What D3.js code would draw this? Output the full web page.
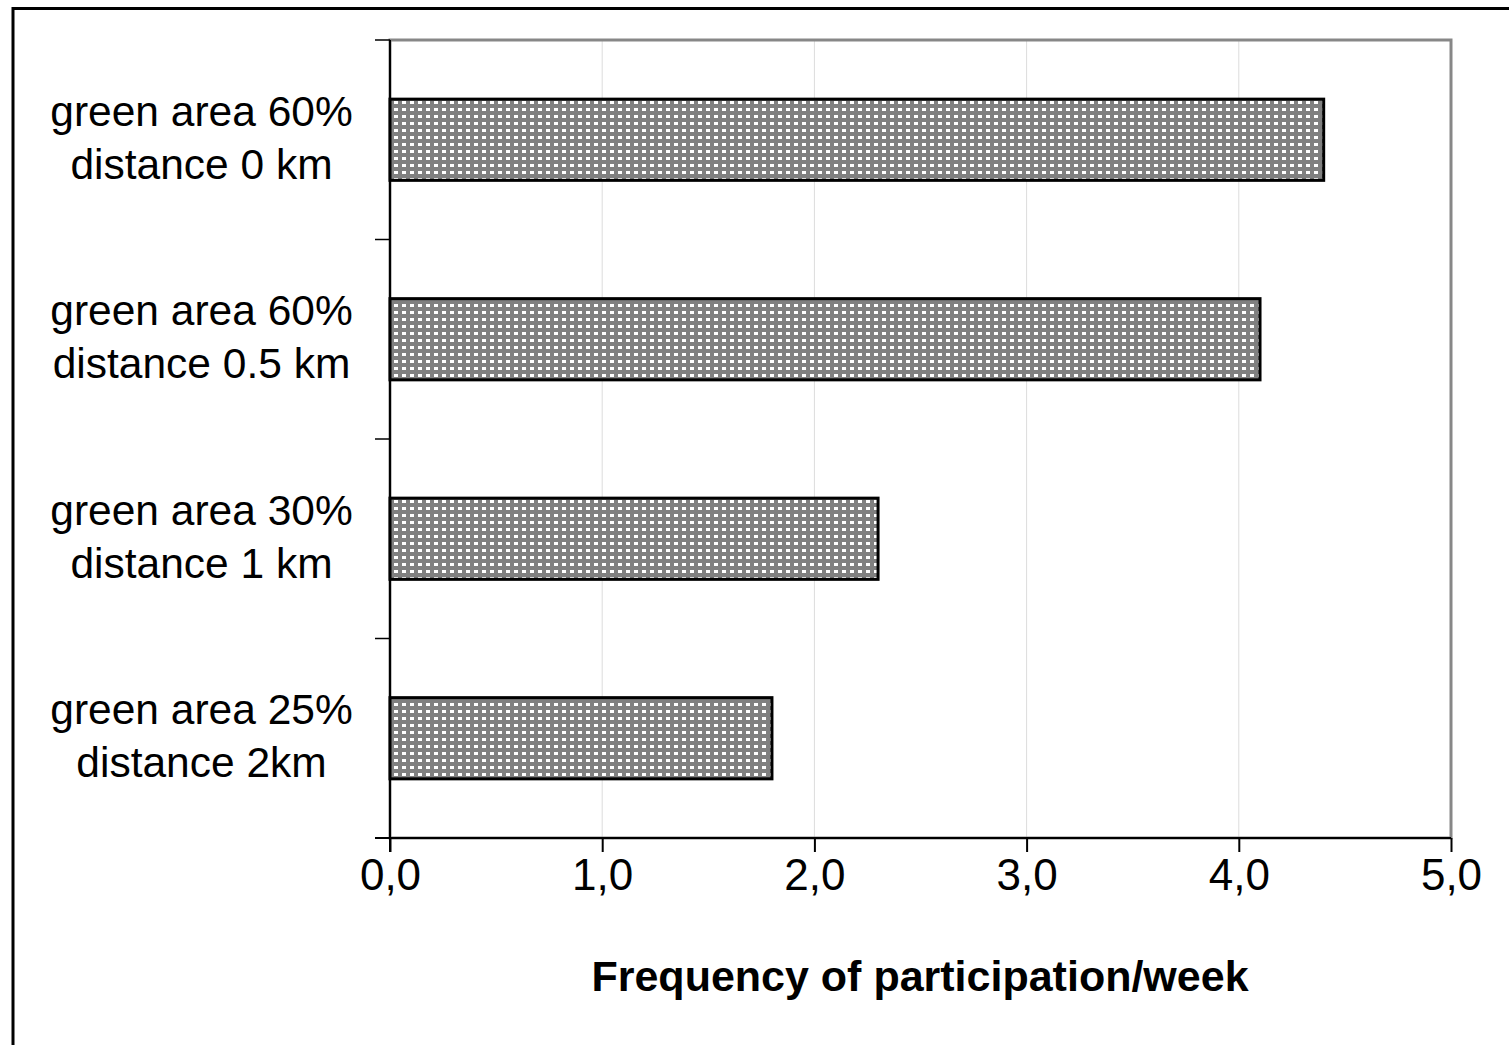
<!DOCTYPE html>
<html>
<head>
<meta charset="utf-8">
<script src="https://cdn.jsdelivr.net/npm/d3@7/dist/d3.min.js"></script>
<style>
html,body{margin:0;padding:0;background:#fff;}
svg{display:block;}
</style>
</head>
<body>
<script>
const categories = [
  ["green area 60%", "distance 0 km"],
  ["green area 60%", "distance 0.5 km"],
  ["green area 30%", "distance 1 km"],
  ["green area 25%", "distance 2km"]
];
const values = [4.4, 4.1, 2.3, 1.8];
const xTicks = [0, 1, 2, 3, 4, 5];
const xTickLabels = ["0,0", "1,0", "2,0", "3,0", "4,0", "5,0"];
const xTitle = "Frequency of participation/week";

const W = 1509, H = 1045;
const svg = d3.select("body").append("svg").attr("width", W).attr("height", H);

// pattern
const defs = svg.append("defs");
const pat = defs.append("pattern").attr("id", "dots")
  .attr("patternUnits", "userSpaceOnUse").attr("width", 8).attr("height", 7)
  .attr("x", 391).attr("y", 1);
pat.append("rect").attr("width", 8).attr("height", 7).attr("fill", "#808080");
pat.append("rect").attr("x", 3).attr("y", 2).attr("width", 4).attr("height", 3).attr("fill", "#fff");

// outer frame
svg.append("rect").attr("x", 13).attr("y", 8.5).attr("width", W + 20).attr("height", H + 20)
  .attr("fill", "none").attr("stroke", "#000").attr("stroke-width", 3);

const L = 390, R = 1451, T = 40, B = 838;
const x = d3.scaleLinear().domain([0, 5]).range([L, R]);
const y = d3.scaleBand().domain(d3.range(categories.length)).range([T, B]).paddingInner(0.593).paddingOuter(0.2965);

// gridlines
svg.append("g").selectAll("line").data(xTicks.slice(1, -1)).join("line")
  .attr("x1", d => x(d)).attr("x2", d => x(d)).attr("y1", T).attr("y2", B)
  .attr("stroke", "#dcdcdc").attr("stroke-width", 1);

// plot border (gray)
svg.append("rect").attr("x", L).attr("y", T).attr("width", R - L).attr("height", B - T)
  .attr("fill", "none").attr("stroke", "#878787").attr("stroke-width", 3);

// bars
svg.append("g").selectAll("rect").data(values).join("rect")
  .attr("x", x(0)).attr("y", (d, i) => y(i))
  .attr("width", d => x(d) - x(0)).attr("height", y.bandwidth())
  .attr("fill", "url(#dots)").attr("stroke", "#000").attr("stroke-width", 3);

// y axis line and ticks
const yTickPos = d3.range(categories.length + 1).map(i => T + i * (B - T) / categories.length);
svg.append("line").attr("x1", L).attr("x2", L).attr("y1", T).attr("y2", B + 14)
  .attr("stroke", "#000").attr("stroke-width", 2);
svg.append("g").selectAll("line").data(yTickPos).join("line")
  .attr("x1", L - 15).attr("x2", L).attr("y1", d => d).attr("y2", d => d)
  .attr("stroke", "#000").attr("stroke-width", 1.5);

// x axis
const xAxis = d3.axisBottom(x).tickValues(xTicks).tickFormat((d, i) => xTickLabels[i]).tickSize(14).tickPadding(10);
const gx = svg.append("g").attr("transform", `translate(0,${B})`).call(xAxis);
gx.select(".domain").attr("stroke", "#000").attr("stroke-width", 2).attr("d", `M${L - 15},0H${R}`);
gx.selectAll(".tick line").attr("stroke", "#000").attr("stroke-width", 2);
gx.selectAll(".tick text").attr("font-family", "Arial, 'Liberation Sans', sans-serif")
  .attr("font-size", 44).attr("fill", "#000").attr("dy", "0.71em").attr("y", 21);

// category labels
const lab = svg.append("g").attr("font-family", "Arial, 'Liberation Sans', sans-serif")
  .attr("font-size", 42.5).attr("fill", "#000").attr("text-anchor", "middle");
categories.forEach((lines, i) => {
  const c = y(i) + y.bandwidth() / 2;
  const t = lab.append("text").attr("x", 201.5);
  t.append("tspan").attr("x", 201.5).attr("y", c - 14).text(lines[0]);
  t.append("tspan").attr("x", 201.5).attr("y", c + 39).text(lines[1]);
});

// x title
svg.append("text").attr("x", (587 + 1253) / 2).attr("y", 991)
  .attr("text-anchor", "middle").attr("font-family", "Arial, 'Liberation Sans', sans-serif")
  .attr("font-weight", "bold").attr("font-size", 43).attr("fill", "#000").text(xTitle);
</script>
</body>
</html>
